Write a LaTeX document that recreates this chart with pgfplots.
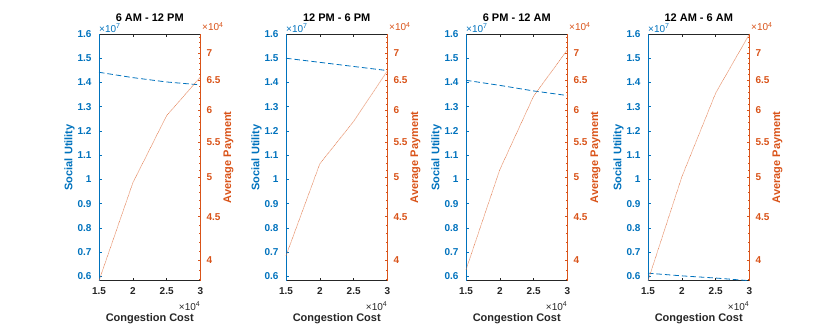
\documentclass[border=0pt]{standalone}
\usepackage{fontspec}
\setmainfont{Liberation Sans}
\usepackage{pgfplots}
\pgfplotsset{compat=1.18}
\definecolor{mblue}{RGB}{0,114,189}
\definecolor{morange}{RGB}{217,83,25}
\definecolor{mgray}{RGB}{38,38,38}

\pgfplotsset{
  panelbase/.style={
    scale only axis, width=101.5pt, height=246.7pt,
    xmin=1.5, xmax=3, clip=false,
    tick align=inside, major tick length=3pt, minor tick length=1.8pt,
    /pgf/number format/assume math mode=true,
    ticklabel style={font=\bfseries\fontsize{10}{12}\selectfont},
    every axis title/.style={at={(0.5,1)}, anchor=center, yshift=16.5pt,
      font=\bfseries\fontsize{11}{13}\selectfont, text=black},
    every axis x label/.style={at={(0.5,0)}, anchor=base, yshift=-40.7pt,
      font=\bfseries\fontsize{11}{13}\selectfont, text=mgray},
  },
  leftpanel/.style={
    panelbase, ymin=0.582, ymax=1.6,
    axis x line*=box, axis y line*=left,
    every outer y axis line/.append style={-},
    y axis line style={draw=mblue, line width=0.5pt, -},
    x axis line style={draw=mgray, line width=0.5pt},
    xtick={1.5,2,2.5,3}, xtick pos=both,
    xtick style={draw=mgray, line width=0.5pt},
    xticklabel style={text=mgray, yshift=-3pt},
    ytick={0.6,0.7,0.8,0.9,1,1.1,1.2,1.3,1.4,1.5,1.6},
    yticklabels={0.6,0.7,0.8,0.9,1,1.1,1.2,1.3,1.4,1.5,1.6},
    ytick style={draw=mblue, line width=0.5pt},
    yticklabel style={text=mblue, xshift=-4pt},
    every axis y label/.style={at={(axis description cs:-0.29,0.5)}, anchor=center,
      rotate=90, font=\bfseries\fontsize{11}{13}\selectfont, text=mblue},
    ylabel={Social Utility}, xlabel={Congestion Cost},
  },
  rightpanel/.style={
    panelbase, ymin=3.787, ymax=7.365,
    axis x line=none, axis y line*=right,
    every outer y axis line/.append style={-},
    y axis line style={draw=morange, line width=0.5pt, -},
    ytick={4,4.5,5,5.5,6,6.5,7},
    yticklabels={4,4.5,5,5.5,6,6.5,7},
    minor ytick={3.8,3.9,4.1,4.2,4.3,4.4,4.6,4.7,4.8,4.9,5.1,5.2,5.3,5.4,
      5.6,5.7,5.8,5.9,6.1,6.2,6.3,6.4,6.6,6.7,6.8,6.9,7.1,7.2,7.3},
    ytick style={draw=morange, line width=0.5pt},
    yticklabel style={text=morange, xshift=2.5pt},
    every axis y label/.style={at={(axis description cs:1.277,0.5)}, anchor=center,
      rotate=90, font=\bfseries\fontsize{11}{13}\selectfont, text=morange},
    ylabel={Average Payment},
  },
  suline/.style={mblue, line width=0.8pt, dash pattern=on 5.5pt off 3pt},
  payline/.style={morange!85, line width=0.55pt, dash pattern=on 0.6pt off 0.6pt},
}

\newcommand{\expleft}{\node[anchor=base west, inner sep=0pt, text=mblue,
  font=\fontsize{10}{12}\selectfont] at (rel axis cs:0,1) [yshift=2pt] {×10\textsuperscript{7}};
  \node[anchor=base east, inner sep=0pt, text=mgray,
  font=\fontsize{10}{12}\selectfont] at (rel axis cs:1,0) [yshift=-29.3pt] {×10\textsuperscript{4}};}
\newcommand{\expright}{\node[anchor=base west, inner sep=0pt, text=morange,
  font=\fontsize{10}{12}\selectfont] at (rel axis cs:1,1) [xshift=1.5pt, yshift=3pt] {×10\textsuperscript{4}};}

\begin{document}
\begin{tikzpicture}
\path[use as bounding box] (0,0) rectangle (830pt,335pt);

% 6 AM - 12 PM
\begin{axis}[leftpanel, at={(99pt,54.3pt)}, title={6 AM - 12 PM}]
\addplot[suline] coordinates {(1.5,1.442) (2,1.420) (2.5,1.402) (3,1.390)};
\expleft
\end{axis}
\begin{axis}[ymode=log, rightpanel, at={(99pt,54.3pt)}]
\addplot[payline] coordinates {(1.5,3.787) (2,4.93) (2.5,5.91) (3,6.56)};
\expright
\end{axis}

% 12 PM - 6 PM
\begin{axis}[leftpanel, at={(286pt,54.3pt)}, title={12 PM - 6 PM}]
\addplot[suline] coordinates {(1.5,1.500) (2,1.483) (2.5,1.466) (3,1.449)};
\expleft
\end{axis}
\begin{axis}[ymode=log, rightpanel, at={(286pt,54.3pt)}]
\addplot[payline] coordinates {(1.5,4.05) (2,5.19) (2.5,5.82) (3,6.67)};
\expright
\end{axis}

% 6 PM - 12 AM
\begin{axis}[leftpanel, at={(466pt,54.3pt)}, title={6 PM - 12 AM}]
\addplot[suline] coordinates {(1.5,1.409) (2,1.388) (2.5,1.365) (3,1.346)};
\expleft
\end{axis}
\begin{axis}[ymode=log, rightpanel, at={(466pt,54.3pt)}]
\addplot[payline] coordinates {(1.5,3.90) (2,5.11) (2.5,6.23) (3,7.06)};
\expright
\end{axis}

% 12 AM - 6 AM
\begin{axis}[leftpanel, at={(648pt,54.3pt)}, title={12 AM - 6 AM}]
\addplot[suline] coordinates {(1.5,0.613) (2,0.602) (2.5,0.593) (3,0.582)};
\expleft
\end{axis}
\begin{axis}[ymode=log, rightpanel, at={(648pt,54.3pt)}]
\addplot[payline] coordinates {(1.5,3.787) (2,5.01) (2.5,6.28) (3,7.365)};
\expright
\end{axis}
\end{tikzpicture}
\end{document}
